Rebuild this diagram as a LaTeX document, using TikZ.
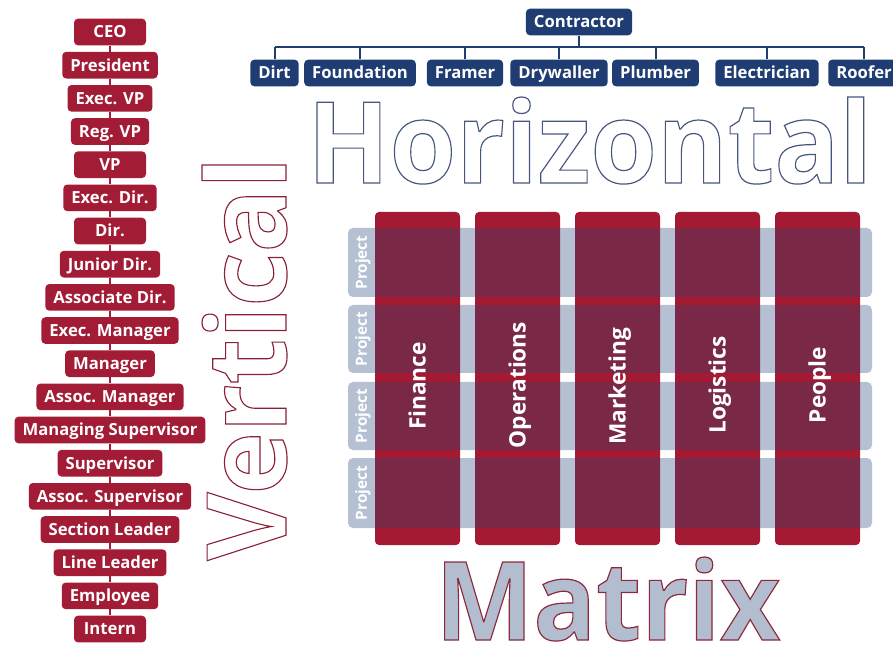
\documentclass[tikz,border=0pt]{standalone}
\usepackage{fontspec}
\setmainfont{Open Sans}
\usepackage{graphicx}
\definecolor{vred}{HTML}{A31C35}
\definecolor{hblue}{HTML}{1F3D73}
\definecolor{rowc}{HTML}{B5C1D3}
\definecolor{colred}{HTML}{A51A33}
\definecolor{maroon}{HTML}{7A2848}
\definecolor{hzline}{HTML}{46567E}
\definecolor{vtline}{HTML}{8B2035}
\definecolor{mxfill}{HTML}{B3BDD0}
\newcommand{\pdflit}[1]{\special{pdf:literal direct #1}}
\begin{document}
\begin{tikzpicture}[x=0.75pt,y=-0.75pt,
  vbox/.style={fill=vred, text=white, rounded corners=3pt, inner xsep=6pt, inner ysep=0pt,
    text height=8.9pt, text depth=0pt,
    minimum height=20pt, minimum width=54pt, font=\fontsize{12.5}{14}\selectfont\bfseries},
  hbox/.style={vbox, fill=hblue, minimum width=0pt},
  vline/.style={draw=vred, line width=1.5pt},
  hline/.style={draw=hblue, line width=1.5pt},
  projlabel/.style={rotate=90, text=white, inner sep=0pt, text height=8.2pt, text depth=0pt,
    font=\fontsize{11.5}{13}\selectfont\bfseries},
  collabel/.style={rotate=90, text=white, inner sep=0pt, text height=12.1pt, text depth=0pt,
    font=\fontsize{17}{20}\selectfont\bfseries},
  bigword/.style={inner sep=0pt}
]
\useasboundingbox (0,0) rectangle (893,645);

% ---------- Vertical hierarchy ----------
\foreach \t [count=\i] in {CEO, President, Exec. VP, Reg. VP, VP, Exec. Dir., Dir., Junior Dir., Associate Dir., Exec. Manager, Manager, Assoc. Manager, Managing Supervisor, Supervisor, Assoc. Supervisor, Section Leader, Line Leader, Employee, Intern}
  \node[vbox] (v\i) at (110,{32+33.17*(\i-1)}) {\t};
\foreach \i in {1,...,18} {
  \pgfmathtruncatemacro\j{\i+1}
  \draw[vline] (v\i.south) -- (v\j.north);
}

% ---------- Horizontal hierarchy ----------
\node[hbox] (c0) at (579,22) {Contractor};
\node[hbox] (d1) at (274.5,73) {Dirt};
\node[hbox] (d2) at (360,73) {Foundation};
\node[hbox] (d3) at (465,73) {Framer};
\node[hbox] (d4) at (559,73) {Drywaller};
\node[hbox] (d5) at (655.5,73) {Plumber};
\node[hbox] (d6) at (767,73) {Electrician};
\node[hbox] (d7) at (864,73) {Roofer};
\coordinate (barY) at (0,47);
\draw[hline] (c0.south) -- (c0.south |- barY);
\draw[hline] (d1.north |- barY) -- (d7.north |- barY);
\foreach \i in {1,...,7}
  \draw[hline] (d\i.north) -- (d\i.north |- barY);

% ---------- Matrix ----------
\foreach \ya/\yb in {228/297,305/373,382/450,458/528}
  \fill[rowc, rounded corners=3.75pt] (348,\ya) rectangle (872,\yb);
\foreach \k in {0,...,4}
  \fill[colred, rounded corners=3pt] ({375+100*\k},212) rectangle ({460+100*\k},545);
\foreach \k in {0,...,4}
  \foreach \ya/\yb in {228/297,305/373,382/450,458/528}
    \fill[maroon] ({375+100*\k},\ya) rectangle ({460+100*\k},\yb);
\foreach \yc [count=\r] in {262.5,339,416,493}
  \node[projlabel] (p\r) at (361.5,\yc) {Project};
\node[collabel] (m1) at (417.5,386) {Finance};
\node[collabel] (m2) at (517.5,385) {Operations};
\node[collabel] (m3) at (617.5,386) {Marketing};
\node[collabel] (m4) at (717.5,385) {Logistics};
\node[collabel] (m5) at (817.5,385) {People};

% ---------- Big words ----------
\node[bigword, anchor=base west] (hw) at (307,183)
  {\resizebox{423.75pt}{64.5pt}{\fontsize{85}{90}\selectfont\bfseries\color{hzline}\pdflit{1 Tr 0.9 w}Horizontal\pdflit{0 Tr}}};
\node[bigword, rotate=90, anchor=base west] (vw) at (286,561)
  {\resizebox{303pt}{63pt}{\fontsize{86}{90}\selectfont\bfseries\color{vtline}\pdflit{1 Tr 0.9 w}Vertical\pdflit{0 Tr}}};
\node[bigword, anchor=base west] (mw) at (435,640)
  {\resizebox{258.75pt}{62.25pt}{\fontsize{82}{90}\selectfont\bfseries\color{mxfill}\pdflit{0.55 0.16 0.23 RG 2 Tr 0.9 w}Matrix\pdflit{0 Tr}}};
\end{tikzpicture}
\end{document}
